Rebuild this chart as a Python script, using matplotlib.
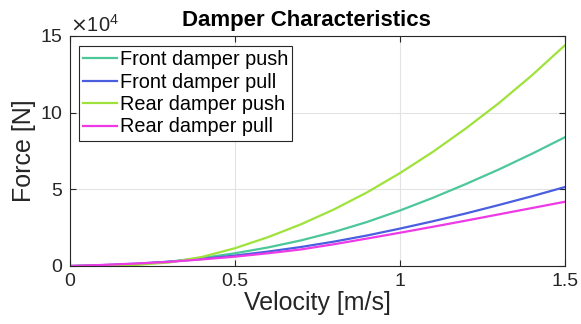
import matplotlib
matplotlib.use('Agg')
import matplotlib.pyplot as plt

plt.rcParams['font.family'] = ['Liberation Sans', 'DejaVu Sans']

velocity = [0.0, 0.1, 0.2, 0.3, 0.4, 0.5, 0.6, 0.7, 0.8, 0.9, 1.0, 1.1, 1.2, 1.3, 1.4, 1.5]

# forces in N
front_push = [0, 300, 1200, 2800, 5200, 8300, 12100, 16700, 22200, 28700, 36200, 44500, 53500, 63000, 73200, 84000]
front_pull = [0, 600, 1500, 2800, 4600, 6800, 9400, 12400, 15900, 19900, 24400, 29200, 34300, 39800, 45500, 51500]
rear_push = [0, 100, 700, 2300, 5900, 11600, 18800, 27200, 36900, 48000, 60600, 74500, 89800, 106300, 124400, 144000]
rear_pull = [0, 700, 1600, 2700, 4300, 6100, 8300, 10800, 14200, 17900, 21700, 25600, 29600, 33700, 37800, 41900]

labels = ['Front damper push', 'Front damper pull', 'Rear damper push', 'Rear damper pull']
colors = ['#4cc79a', '#4a5fe0', '#9ee23a', '#ee3ae6']

fig = plt.figure(figsize=(5.81, 3.24), dpi=100)
ax = fig.add_axes([70 / 581, 58 / 324, 495 / 581, 230 / 324])

for series, lab, col in zip([front_push, front_pull, rear_push, rear_pull], labels, colors):
    ax.plot(velocity, series, color=col, lw=1.6, label=lab)

ax.set_xlim(0, 1.5)
ax.set_ylim(0, 15e4)
ax.set_xticks([0, 0.5, 1, 1.5])
ax.set_xticklabels(['0', '0.5', '1', '1.5'])
ax.set_yticks([0, 5e4, 10e4, 15e4])
ax.ticklabel_format(axis='y', style='sci', scilimits=(4, 4), useMathText=True)
ax.yaxis.get_offset_text().set_fontsize(14.5)

ax.grid(True, color='#e3e3e3', lw=0.8)
ax.set_axisbelow(True)
ax.tick_params(direction='in', length=4, width=0.8, labelsize=14, colors='#262626',
               top=True, right=True, pad=5)
for s in ax.spines.values():
    s.set_color('#262626')
    s.set_linewidth(0.8)

ax.set_xlabel('Velocity [m/s]', fontsize=18, color='#262626', labelpad=1)
ax.set_ylabel('Force [N]', fontsize=18, color='#262626', labelpad=3)
ax.set_title('Damper Characteristics', fontsize=16, fontweight='bold', x=0.478, pad=7)

leg = ax.legend(loc='upper left', bbox_to_anchor=(9 / 495, 1 - 10 / 230), borderaxespad=0,
                fontsize=14.3, handlelength=1.7, handletextpad=0.12, labelspacing=0.17,
                borderpad=0.22, fancybox=False, framealpha=1)
leg.get_frame().set_edgecolor('#262626')
leg.get_frame().set_linewidth(0.8)

fig.savefig('out.png', dpi=100)
